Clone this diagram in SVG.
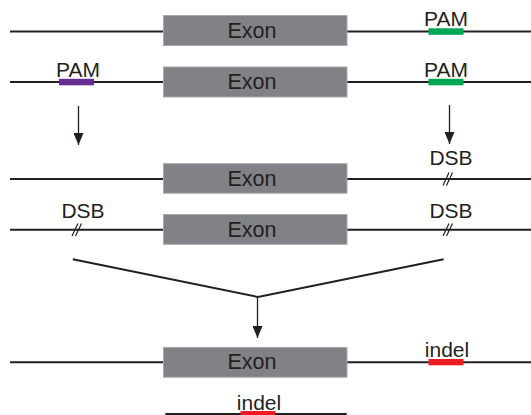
<svg xmlns="http://www.w3.org/2000/svg" width="531" height="415" viewBox="0 0 531 415">
<defs>
<style>
.ln{stroke:#231f20;stroke-width:2;fill:none}
.thin{stroke:#231f20;stroke-width:1.3;fill:none}
.brk{stroke:#231f20;stroke-width:1.2;fill:none}
.exon{fill:#808285;stroke:#a7a9ac;stroke-width:1}
.t{font-family:"Liberation Sans",Arial,sans-serif;font-size:21px;text-anchor:middle;fill:#231f20}
.te{font-family:"Liberation Sans",Arial,sans-serif;font-size:21.5px;text-anchor:middle;fill:#231f20}
.g{fill:#00a651}
.p{fill:#662d91}
.r{fill:#ed1c24}
</style>
<marker id="ah" viewBox="0 0 12 10" refX="12" refY="5" markerWidth="12" markerHeight="10" markerUnits="userSpaceOnUse" orient="auto">
<path d="M0,0 L12,5 L0,10 Z" fill="#231f20"/>
</marker>
</defs>
<g id="row1">
<line class="ln" x1="10" y1="31.5" x2="164" y2="31.5"/>
<line class="ln" x1="347" y1="31.5" x2="531" y2="31.5"/>
<rect class="exon" x="163.5" y="15.5" width="183.5" height="30"/>
<text class="te" x="252" y="37.5">Exon</text>
<rect class="g" x="428.5" y="28.3" width="35" height="6.5"/>
<text class="t" x="446" y="25.5">PAM</text>
</g>
<g id="row2">
<line class="ln" x1="10" y1="82" x2="164" y2="82"/>
<line class="ln" x1="347" y1="82" x2="531" y2="82"/>
<rect class="exon" x="163.5" y="67" width="183.5" height="30"/>
<text class="te" x="252" y="89">Exon</text>
<rect class="p" x="59" y="78.8" width="35" height="6.5"/>
<text class="t" x="78" y="77.2">PAM</text>
<rect class="g" x="428.5" y="78.8" width="35" height="6.5"/>
<text class="t" x="446" y="77.2">PAM</text>
</g>
<g id="row3">
<line class="ln" x1="10" y1="179" x2="164" y2="179"/>
<line class="ln" x1="347" y1="179" x2="531" y2="179"/>
<rect class="exon" x="163.5" y="163.7" width="183.5" height="29.5"/>
<text class="te" x="252" y="185.7">Exon</text>
<text class="t" x="451" y="165.4">DSB</text>
<path class="brk" d="M443,185.5 L449,172.5 M446.5,185.5 L452.5,172.5"/>
</g>
<g id="row4">
<line class="ln" x1="10" y1="229.7" x2="164" y2="229.7"/>
<line class="ln" x1="347" y1="229.7" x2="531" y2="229.7"/>
<rect class="exon" x="163.5" y="214.5" width="183.5" height="29.8"/>
<text class="te" x="252" y="236.5">Exon</text>
<text class="t" x="83" y="217.9">DSB</text>
<path class="brk" d="M72,236 L78,223.5 M75.5,236 L81.5,223.5"/>
<text class="t" x="451" y="217.9">DSB</text>
<path class="brk" d="M443,236 L449,223.5 M446.5,236 L452.5,223.5"/>
</g>
<g id="row5">
<line class="ln" x1="10" y1="362.3" x2="164" y2="362.3"/>
<line class="ln" x1="347" y1="362.3" x2="531" y2="362.3"/>
<rect class="exon" x="163.5" y="347.4" width="183.5" height="29.8"/>
<text class="te" x="252" y="369.4">Exon</text>
<rect class="r" x="428.5" y="359" width="35" height="6.3"/>
<text class="t" x="447" y="357.2">indel</text>
</g>
<g id="row6">
<line class="ln" x1="165.3" y1="414" x2="346.8" y2="414"/>
<rect class="r" x="240.5" y="411" width="35" height="5"/>
<text class="t" x="259" y="410.4">indel</text>
</g>
<g id="connectors">
<line class="thin" x1="78.5" y1="106" x2="78.5" y2="145" marker-end="url(#ah)"/>
<line class="thin" x1="449.5" y1="105" x2="449.5" y2="144" marker-end="url(#ah)"/>
<polyline class="ln" points="72.8,259.2 258,297 443.6,259.2"/>
<line class="thin" x1="257.5" y1="297" x2="257.5" y2="338" marker-end="url(#ah)"/>
</g>
</svg>
